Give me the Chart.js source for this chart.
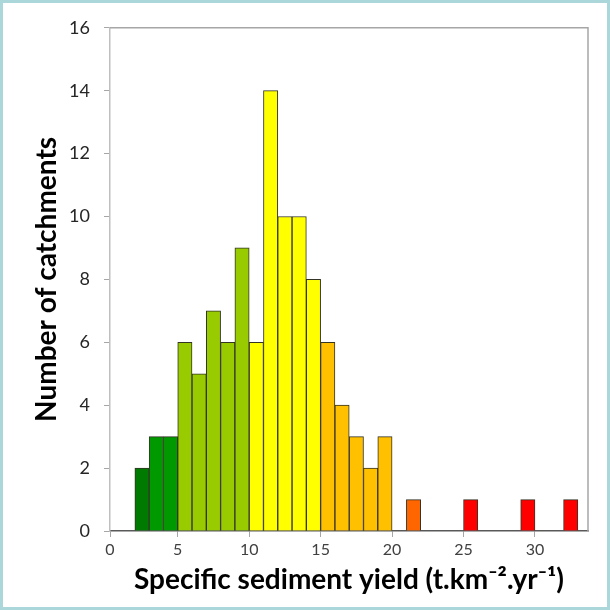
<!DOCTYPE html>
<html>
<head>
<meta charset="utf-8">
<script src="https://cdn.jsdelivr.net/npm/chart.js@4"></script>
<style>
    html, body { margin: 0; padding: 0; background: #fff; }
    .frame { width: 604px; height: 604px; border: 3px solid #abd7db; }
</style>
</head>
<body>
<div class="frame"><canvas id="graph" width="604" height="604"></canvas></div>
<script>
// histogram bins (lower edge of each 1 t/km2/yr class) and catchment counts
var binStarts = [2, 3, 4, 5, 6, 7, 8, 9, 10, 11, 12, 13, 14, 15, 16, 17, 18, 19, 21, 25, 29, 32];
var counts    = [2, 3, 3, 6, 5, 7, 6, 9, 6, 14, 10, 10, 8, 6, 4, 3, 2, 3, 1, 1, 1, 1];
var xTickValues = [0, 5, 10, 15, 20, 25, 30];
var yTickValues = [0, 2, 4, 6, 8, 10, 12, 14, 16];

var fontFamily = 'Lato, "Open Sans", sans-serif';

function classColour(x) {
    if (x < 3) return '#007a00';
    if (x < 5) return '#009a00';
    if (x < 10) return '#99cc00';
    if (x < 15) return '#ffff00';
    if (x < 20) return '#ffc000';
    if (x < 25) return '#ff6600';
    return '#ff0000';
}

var points = binStarts.map(function (b, i) {
    return { x: b + 0.5, y: counts[i] };
});

// draws the top and right edge of the plot box
var plotBox = {
    id: 'plotBox',
    afterDraw: function (chart) {
        var a = chart.chartArea;
        var ctx = chart.ctx;
        ctx.save();
        ctx.strokeStyle = '#a6a6a6';
        ctx.lineWidth = 1.5;
        ctx.beginPath();
        ctx.moveTo(a.left, a.top);
        ctx.lineTo(a.right, a.top);
        ctx.lineTo(a.right, a.bottom);
        ctx.stroke();
        ctx.restore();
    }
};

document.addEventListener('DOMContentLoaded', function () {
    var chartCtx = document.getElementById('graph').getContext('2d');

    new Chart(chartCtx, {
        type: 'bar',
        data: {
            datasets: [
                {
                    label: 'Catchments',
                    data: points,
                    backgroundColor: function (c) {
                        return c.raw ? classColour(c.raw.x) : '#999';
                    },
                    borderColor: '#333326',
                    borderWidth: 1,
                    barPercentage: 1,
                    categoryPercentage: 1
                }
            ]
        },
        plugins: [plotBox],
        options: {
            responsive: false,
            animation: false,
            layout: { padding: { top: 23, right: 19, left: 0, bottom: 0 } },
            plugins: {
                legend: { display: false },
                tooltip: { enabled: false }
            },
            scales: {
                x: {
                    type: 'linear',
                    offset: false,
                    min: 0.26,
                    max: 33.71,
                    afterBuildTicks: function (scale) {
                        scale.ticks = xTickValues.map(function (v) {
                            return { value: v === 0 ? scale.min : v };
                        });
                    },
                    ticks: {
                        callback: function (v) { return v < 1 ? '0' : v; },
                        color: '#404040',
                        font: { family: fontFamily, size: 16 },
                        padding: 3,
                        maxRotation: 0
                    },
                    grid: {
                        offset: false,
                        drawOnChartArea: false,
                        drawTicks: true,
                        tickLength: 6,
                        color: '#a6a6a6'
                    },
                    border: { color: '#595959', width: 1.5 },
                    title: {
                        display: true,
                        text: 'Specific sediment yield (t.km\u207B\u00B2.yr\u207B\u00B9)',
                        color: '#000',
                        font: { family: fontFamily, size: 28, weight: 'bold' },
                        padding: { top: 0, bottom: 10 }
                    },
                    afterFit: function (scale) { scale.height = 76; }
                },
                y: {
                    min: 0,
                    max: 16,
                    afterBuildTicks: function (scale) {
                        scale.ticks = yTickValues.map(function (v) { return { value: v }; });
                    },
                    ticks: {
                        color: '#262626',
                        font: { family: fontFamily, size: 18 },
                        padding: 14
                    },
                    grid: {
                        drawOnChartArea: false,
                        drawTicks: true,
                        tickLength: 6,
                        color: '#a6a6a6'
                    },
                    border: { color: '#bfbfbf', width: 1.5 },
                    title: {
                        display: true,
                        text: 'Number of catchments',
                        color: '#000',
                        font: { family: fontFamily, size: 28, weight: 'bold' },
                        padding: { top: 27, bottom: 0 }
                    },
                    afterFit: function (scale) { scale.width = 107; }
                }
            }
        }
    });
});
</script>
</body>
</html>
